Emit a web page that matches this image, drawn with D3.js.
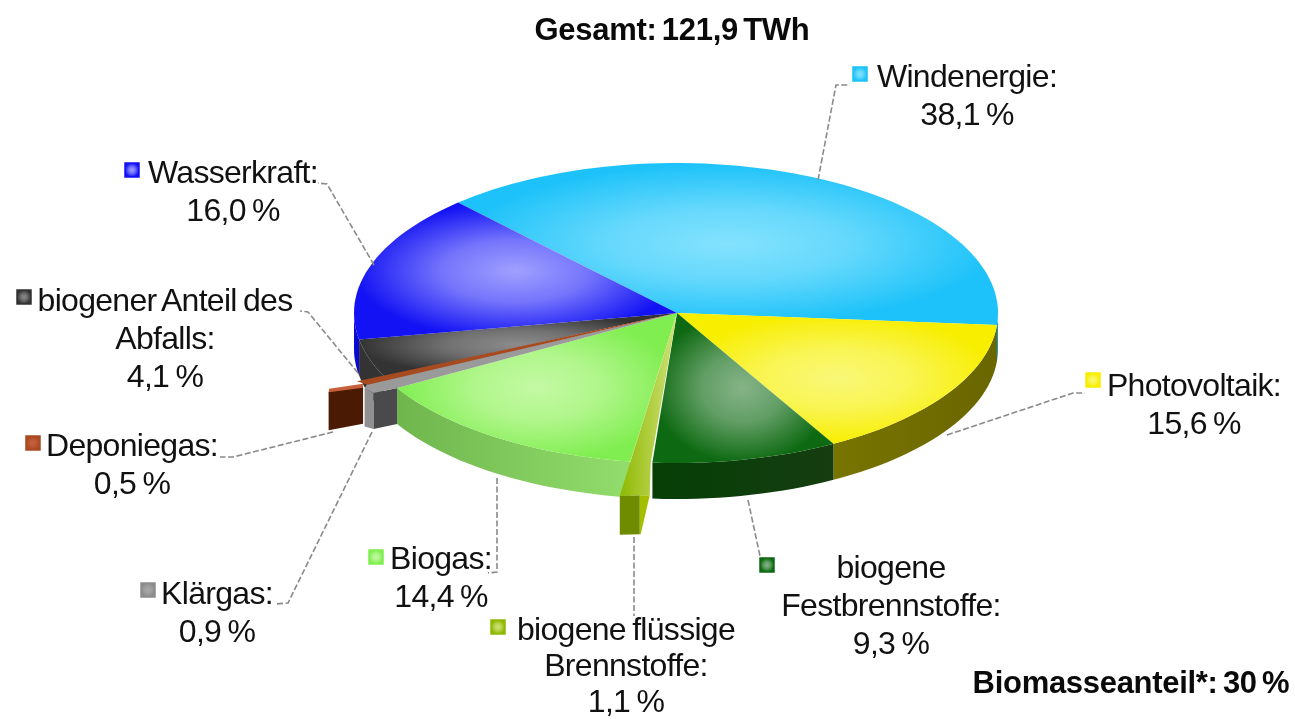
<!DOCTYPE html>
<html>
<head>
<meta charset="utf-8">
<script src="https://cdn.jsdelivr.net/npm/d3@7"></script>
<style>
html, body { margin: 0; padding: 0; background: #fff; }
svg { display: block; filter: blur(0.6px); }
text { font-family: "Liberation Sans", Arial, sans-serif; font-size: 32px; letter-spacing: -0.7px; word-spacing: -2px; fill: #111; text-anchor: middle; }
.bold { font-size: 31px; font-weight: bold; letter-spacing: -0.3px; word-spacing: -3px; fill: #0a0a0a; }
</style>
</head>
<body>
<div id="chart"></div>
<script>
// Stromerzeugung, Anteile in Prozent
var categories = ["Windenergie", "Photovoltaik", "biogene Festbrennstoffe", "biogene flüssige Brennstoffe", "Biogas", "Klärgas", "Deponiegas", "biogener Anteil des Abfalls", "Wasserkraft"];
var values = [38.1, 15.6, 9.3, 1.1, 14.4, 0.9, 0.5, 4.1, 16.0];
var title = "Gesamt: 121,9 TWh";
var note = "Biomasseanteil*: 30 %";

var width = 1295, height = 719;
var cx = 676, cy = 313, rx = 322, ry = 150, depth = 36;
var toRad = Math.PI / 180;

// colours per category: [light centre, edge, wall a, wall b]
var colors = {
  "Windenergie": ["#84e2fd", "#1cc2f9", "#149ac8", "#149ac8"],
  "Photovoltaik": ["#f9f878", "#f8ee00", "#6a6600", "#787400"],
  "biogene Festbrennstoffe": ["#86b488", "#0e6a12", "#153d10", "#063f06"],
  "biogene flüssige Brennstoffe": ["#cfe27a", "#8fb800", "#6f8b00", "#6f8b00"],
  "Biogas": ["#c4f9a4", "#80ee50", "#92dd6c", "#6fb64d"],
  "Klärgas": ["#a8a8a8", "#8c8c8c", "#4a4a4c", "#909090"],
  "Deponiegas": ["#c8603c", "#a84a20", "#4a1a04", "#4a1a04"],
  "biogener Anteil des Abfalls": ["#8c8c8c", "#333333", "#333333", "#333333"],
  "Wasserkraft": ["#a0a0ff", "#1212f4", "#0a0ad0", "#0a0ad0"]
};

// how each label is set out: lines are centred on x, swatch sits left of the first line
var labelLayout = {
  "Windenergie": { lines: ["Windenergie:"], x: 967, y: 87, sx: 860, sy: 74 },
  "Wasserkraft": { lines: ["Wasserkraft:"], x: 233, y: 183, sx: 132, sy: 170 },
  "biogener Anteil des Abfalls": { lines: ["biogener Anteil des", "Abfalls:"], x: 165, y: 311, sx: 24, sy: 297 },
  "Deponiegas": { lines: ["Deponiegas:"], x: 132, y: 456, sx: 33, sy: 443 },
  "Klärgas": { lines: ["Klärgas:"], x: 217, y: 604, sx: 148, sy: 590 },
  "Biogas": { lines: ["Biogas:"], x: 441, y: 569, sx: 376, sy: 557 },
  "biogene flüssige Brennstoffe": { lines: ["biogene flüssige", "Brennstoffe:"], x: 626, y: 640, sx: 498, sy: 627, lh: 36 },
  "biogene Festbrennstoffe": { lines: ["biogene", "Festbrennstoffe:"], x: 891, y: 578, sx: 767, sy: 565 },
  "Photovoltaik": { lines: ["Photovoltaik:"], x: 1194, y: 396, sx: 1093, sy: 380 }
};

// leader lines, anchored on the slices
var leaders = {
  "Windenergie": [[818, 180], [836, 85], [850, 85]],
  "Wasserkraft": [[374, 265], [327, 184], [318, 183]],
  "biogener Anteil des Abfalls": [[358, 373], [308, 312], [300, 311]],
  "Deponiegas": [[333, 432], [233, 457], [220, 457]],
  "Klärgas": [[372, 432], [288, 603], [275, 604]],
  "Biogas": [[497, 478], [497, 572], [488, 573]],
  "biogene flüssige Brennstoffe": [[634, 537], [634, 616]],
  "biogene Festbrennstoffe": [[748, 500], [760, 556]],
  "Photovoltaik": [[947, 435], [1073, 393], [1085, 393]]
};

var svg = d3.select("#chart").append("svg").attr("width", width).attr("height", height);
var defs = svg.append("defs");

var pie = d3.pie().sort(null).startAngle(-42.6 * toRad).endAngle((360 - 42.6) * toRad);
var slices = pie(values).map(function (d, i) {
  return { name: categories[i], value: d.value, a0: d.startAngle, a1: d.endAngle };
});

// angle is clockwise from north, as in d3.pie
function pt(a, f) {
  f = f === undefined ? 1 : f;
  return [cx + rx * f * Math.sin(a), cy - ry * f * Math.cos(a)];
}
function arcPts(a0, a1, f) {
  var n = Math.max(2, Math.ceil(Math.abs(a1 - a0) / (2 * toRad)));
  return d3.range(n + 1).map(function (i) { return pt(a0 + (a1 - a0) * i / n, f); });
}
function down(p, d) { return [p[0], p[1] + (d === undefined ? depth : d)]; }
var line = d3.line();
function poly(pts) { return line(pts) + "Z"; }

function radial(id, c) {
  var g = defs.append("radialGradient").attr("id", id);
  g.append("stop").attr("offset", "0%").attr("stop-color", c[0]);
  g.append("stop").attr("offset", "45%").attr("stop-color", d3.interpolateRgb(c[0], c[1])(0.3));
  g.append("stop").attr("offset", "100%").attr("stop-color", c[1]);
  return "url(#" + id + ")";
}
function linear(id, c) {
  var g = defs.append("linearGradient").attr("id", id);
  g.append("stop").attr("offset", "0%").attr("stop-color", c[0]);
  g.append("stop").attr("offset", "100%").attr("stop-color", c[1]);
  return "url(#" + id + ")";
}

var small = { "biogene flüssige Brennstoffe": 1, "Klärgas": 1, "Deponiegas": 1 };
var bySlice = {};
slices.forEach(function (s) { bySlice[s.name] = s; });

// outer walls of the big slices, only the part facing the viewer
var wallLayer = svg.append("g");
slices.filter(function (s) { return !small[s.name]; }).forEach(function (s, i) {
  var lo = Math.max(s.a0, 90 * toRad), hi = Math.min(s.a1, 270 * toRad);
  if (hi <= lo) return;
  var top = arcPts(lo, hi);
  var bottom = top.map(function (p) { return down(p); }).reverse();
  wallLayer.append("path")
    .attr("d", poly(top.concat(bottom)))
    .attr("fill", linear("wall" + i, [colors[s.name][3], colors[s.name][2]]));
});

// top faces
var topLayer = svg.append("g");
slices.filter(function (s) { return !small[s.name]; }).forEach(function (s, i) {
  topLayer.append("path")
    .attr("d", poly([[cx + 1, cy]].concat(arcPts(s.a0, s.a1))))
    .attr("fill", radial("top" + i, colors[s.name]));
});

// Klärgas is pulled out of the pie: a thin strip with two visible wall faces
(function () {
  var s = bySlice["Klärgas"], c = colors[s.name];
  var a = pt(s.a0), b = pt(s.a0 + 0.4 * toRad, 1.08), e = pt(s.a1 - 0.7 * toRad, 1.09);
  svg.append("path").attr("d", poly([e, b, down(b), down(e, 38)])).attr("fill", c[3]);
  svg.append("path").attr("d", poly([b, a, down(a), down(b)])).attr("fill", c[2]);
  svg.append("path").attr("d", poly([[cx + 1, cy], a, b, e, pt(s.a1 + 0.5 * toRad, 1.07)])).attr("fill", "#9a9a9a");
})();

// Deponiegas: same idea, strip ending in a box
(function () {
  var s = bySlice["Deponiegas"], c = colors[s.name];
  var inner = pt(s.a0 + 0.9 * toRad, 1.08), outer = pt(s.a1, 1.19);
  svg.append("path").attr("d", poly([inner, pt(s.a1 - 0.15 * toRad, 1.19), down(pt(s.a1, 1.19), 5), down(inner, 8)])).attr("fill", c[0]);
  svg.append("path").attr("d", poly([down(outer, 4), down(inner, 4), down(inner, 40), down(outer, 42)])).attr("fill", c[2]);
  svg.append("path").attr("d", poly([[cx + 1, cy], pt(s.a1 + 0.3 * toRad, 1.09), pt(s.a0 + 0.2 * toRad, 1.07)])).attr("fill", c[1]);
})();

// biogene flüssige Brennstoffe: long narrow wedge in front of the rim
(function () {
  var s = bySlice["biogene flüssige Brennstoffe"], c = colors[s.name];
  var l = pt(s.a1, 1.23), r = pt(s.a0 + 1.1 * toRad, 1.22), rim = pt(s.a0 + 0.3 * toRad, 1.0);
  svg.append("path").attr("d", poly([r, [rim[0] - 1, r[1]], [r[0] + 1, r[1] + depth + 3], down(r, depth + 3)])).attr("fill", "#a3bf00");
  svg.append("path").attr("d", poly([l, r, down(r, depth + 3), down(l, depth + 3)])).attr("fill", c[2]);
  svg.append("path").attr("d", poly([[cx + 1, cy], rim, [rim[0] - 1, r[1]], r, l])).attr("fill", linear("flues", [c[1], c[0]]));
})();

// leader lines
Object.keys(leaders).forEach(function (k) {
  svg.append("path").attr("d", line(leaders[k]))
    .attr("fill", "none").attr("stroke", "#8a8a8a").attr("stroke-width", 1.6).attr("stroke-dasharray", "6,2.5");
});

// labels
var lineHeight = 38, swatch = 14;
slices.forEach(function (s, i) {
  var l = labelLayout[s.name];
  var g = svg.append("g");
  var lines = l.lines.concat([s.value.toFixed(1).replace(".", ",") + " %"]);
  lines.forEach(function (t, j) {
    g.append("text").attr("x", l.x).attr("y", l.y + j * (l.lh || lineHeight)).text(t);
  });
  g.append("rect").attr("x", l.sx - swatch / 2).attr("y", l.sy - swatch / 2).attr("width", swatch).attr("height", swatch)
    .attr("fill", radial("sw" + i, colors[s.name])).attr("stroke", colors[s.name][1]).attr("stroke-width", 1.5);
});

svg.append("text").attr("class", "bold").attr("x", 672).attr("y", 40).text(title);
svg.append("text").attr("class", "bold").attr("x", 1131).attr("y", 693).text(note);
</script>
</body>
</html>
